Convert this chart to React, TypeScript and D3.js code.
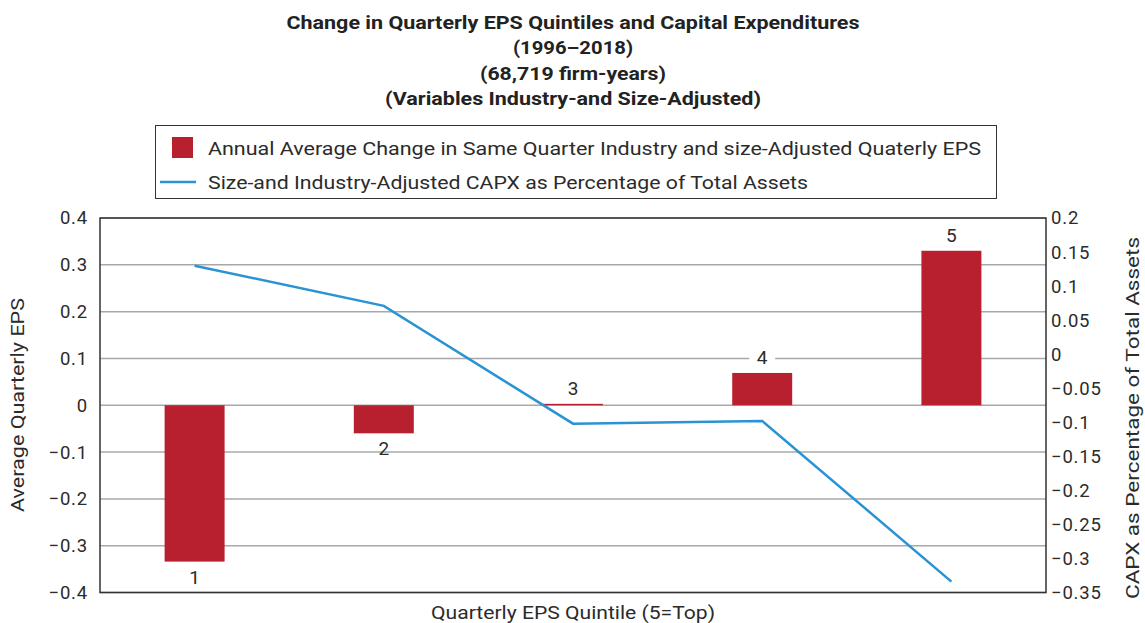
import React from 'react';
import * as d3 from 'd3';

const quintiles = ['1', '2', '3', '4', '5'];
const epsChange = [-0.334, -0.06, 0.003, 0.069, 0.33];
const capxPct = [0.13, 0.071, -0.102, -0.098, -0.334];
const leftTicks = [0.4, 0.3, 0.2, 0.1, 0, -0.1, -0.2, -0.3, -0.4];
const rightTicks = [0.2, 0.15, 0.1, 0.05, 0, -0.05, -0.1, -0.15, -0.2, -0.25, -0.3, -0.35];
const titleLines = [
  'Change in Quarterly EPS Quintiles and Capital Expenditures',
  '(1996–2018)',
  '(68,719 firm-years)',
  '(Variables Industry-and Size-Adjusted)',
];
const titleWidths = [573, 120, 186, 376];
const legendLabels = [
  'Annual Average Change in Same Quarter Industry and size-Adjusted Quaterly EPS',
  'Size-and Industry-Adjusted CAPX as Percentage of Total Assets',
];
const legendWidths = [773, 600];
const xTitle = 'Quarterly EPS Quintile (5=Top)';
const yLeftTitle = 'Average Quarterly EPS';
const yRightTitle = 'CAPX as Percentage of Total Assets';

const BAR = '#b8202f';
const LINE = '#2a93d3';
const TXT = '#2b2b2b';
const FONT = 'Roboto, "Open Sans", sans-serif';

const fmt = (v: number) => (v < 0 ? '\u2212' : '') + String(+Math.abs(v).toFixed(2));

export default function App() {
  const left = 100, right = 1046, top = 218, bottom = 592.5;
  const x = d3.scaleBand<string>().domain(quintiles).range([left, right]).paddingInner(0.683).paddingOuter(0.3415);
  const yL = d3.scaleLinear().domain([-0.4, 0.4]).range([bottom, top]);
  const yR = d3.scaleLinear().domain([-0.35, 0.2]).range([bottom, top]);
  const cx = (q: string) => (x(q) as number) + x.bandwidth() / 2;
  const line = d3.line<number>().x((_, i) => cx(quintiles[i])).y((d) => yR(d));

  return (
    <svg width={1145} height={623} style={{ position: 'absolute', left: 0, top: 0, background: '#fff' }} fontFamily={FONT}>
      <rect x={0} y={0} width={1145} height={623} fill="#fff" />
      {titleLines.map((t, i) => (
        <text key={i} x={573} y={29 + i * 25.3} textAnchor="middle" fontSize={18} fontWeight={700} fill="#222"
          textLength={titleWidths[i]} lengthAdjust="spacingAndGlyphs">
          {t}
        </text>
      ))}
      {/* legend */}
      <rect x={155.5} y={125.5} width={841} height={73} fill="#fff" stroke="#333" strokeWidth={1} />
      <rect x={172} y={137} width={21} height={21} fill={BAR} />
      <line x1={160} x2={196} y1={182} y2={182} stroke={LINE} strokeWidth={2.5} />
      {legendLabels.map((t, i) => (
        <text key={i} x={208} y={154.5 + i * 34} fontSize={18} fill={TXT} textLength={legendWidths[i]} lengthAdjust="spacingAndGlyphs">{t}</text>
      ))}

      {/* gridlines */}
      {leftTicks.map((t) => (
        <line key={t} x1={left} x2={right} y1={yL(t)} y2={yL(t)} stroke="#a8a8a8" strokeWidth={1.5} />
      ))}
      {/* bars */}
      {epsChange.map((v, i) => (
        <rect key={i} x={x(quintiles[i])} width={x.bandwidth()} y={Math.min(yL(v), yL(0))} height={Math.abs(yL(v) - yL(0))} fill={BAR} />
      ))}
      {/* line */}
      <path d={line(capxPct) || ''} fill="none" stroke={LINE} strokeWidth={2.5} />
      {/* frame */}
      <rect x={left} y={top} width={right - left} height={bottom - top} fill="none" stroke="#333" strokeWidth={1.5} />
      {/* bar labels */}
      {epsChange.map((v, i) => {
        const yy = v < 0 ? yL(v) + 15.5 : yL(v) - 15.5;
        return (
          <g key={i}>
            {i === 3 && <rect x={cx(quintiles[i]) - 13} y={yy - 10} width={26} height={20} fill="#fff" />}
            <text x={cx(quintiles[i])} y={yy} dy="0.35em" textAnchor="middle" fontSize={19} fill={TXT}>
              {quintiles[i]}
            </text>
          </g>
        );
      })}
      {/* left ticks */}
      {leftTicks.map((t) => (
        <text key={t} x={88} y={yL(t)} dy="0.35em" textAnchor="end" fontSize={18.5} letterSpacing={0.8} fill={TXT}>{fmt(t)}</text>
      ))}
      {rightTicks.map((t) => (
        <text key={t} x={1051} y={yR(t)} dy="0.35em" textAnchor="start" fontSize={18.5} letterSpacing={0.8} fill={TXT}>{fmt(t)}</text>
      ))}
      <text transform="translate(24,405) rotate(-90)" textAnchor="middle" fontSize={18} fill={TXT} textLength={214} lengthAdjust="spacingAndGlyphs">{yLeftTitle}</text>
      <text transform="translate(1139,418) rotate(-90)" textAnchor="middle" fontSize={18} fill={TXT} textLength={362} lengthAdjust="spacingAndGlyphs">{yRightTitle}</text>
      <text x={573} y={619} textAnchor="middle" fontSize={18} fill={TXT} textLength={284} lengthAdjust="spacingAndGlyphs">{xTitle}</text>
    </svg>
  );
}
